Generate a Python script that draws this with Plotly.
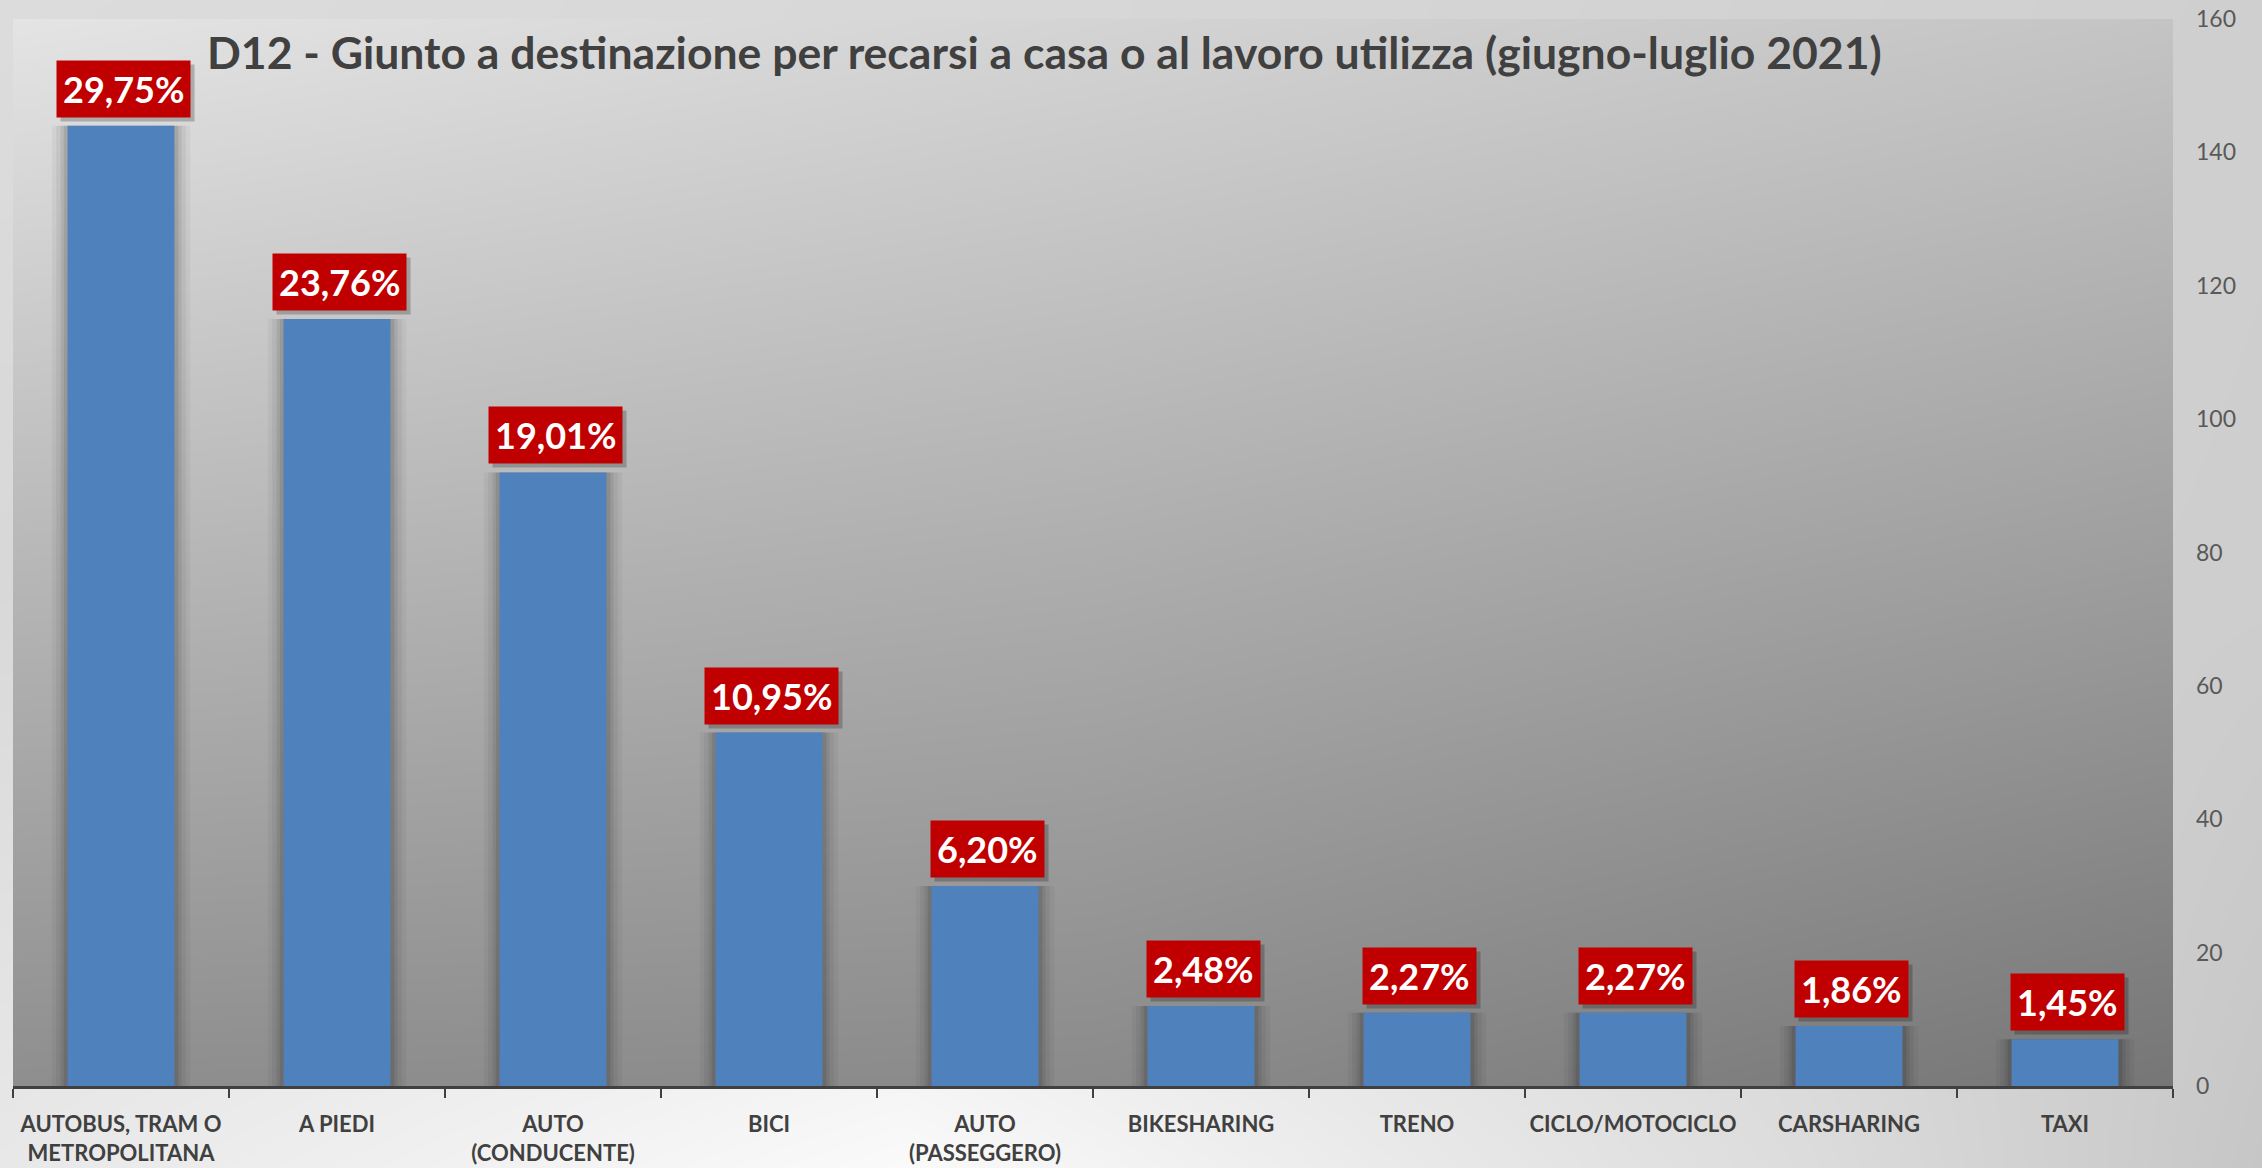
import plotly.graph_objects as go

# dati del grafico
categories = ["AUTOBUS, TRAM O<br>METROPOLITANA", "A PIEDI", "AUTO<br>(CONDUCENTE)", "BICI",
              "AUTO<br>(PASSEGGERO)", "BIKESHARING", "TRENO", "CICLO/MOTOCICLO",
              "CARSHARING", "TAXI"]
counts = [144, 115, 92, 53, 30, 12, 11, 11, 9, 7]
percent_labels = ["29,75%", "23,76%", "19,01%", "10,95%", "6,20%", "2,48%", "2,27%",
                  "2,27%", "1,86%", "1,45%"]
title = "D12 - Giunto a destinazione per recarsi a casa o al lavoro utilizza (giugno-luglio 2021)"

W, H = 2262, 1168
x0, x1 = 13 / W, 2173 / W
y0, y1 = (H - 1086) / H, (H - 19) / H

BLUE = "#4F81BD"
RED = "#C00000"
DARK = "#404040"
FONT = "Lato"

gray_scale = [[0, "black"], [1, "white"]]

fig = go.Figure()

# sfondo della pagina (sfumatura)
fig.add_trace(go.Heatmap(
    x=[0, 0.4, 0.8, 1], y=[0, 0.5, 1],
    z=[[232, 250, 220, 198],
       [216, 216, 208, 206],
       [220, 216, 210, 207]],
    colorscale=gray_scale, zmin=0, zmax=255, zsmooth="best",
    showscale=False, hoverinfo="skip", xaxis="x", yaxis="y"))

# sfondo dell'area del grafico (sfumatura)
fig.add_trace(go.Heatmap(
    x=[0, 0.5, 1], y=[0, 0.5, 1],
    z=[[142, 138, 118],
       [184, 174, 158],
       [228, 212, 196]],
    colorscale=gray_scale, zmin=0, zmax=255, zsmooth="best",
    showscale=False, hoverinfo="skip", xaxis="x2", yaxis="y2"))

# ombre delle barre
for w, a in [(0.64, 0.04), (0.6, 0.05), (0.56, 0.07), (0.53, 0.09)]:
    fig.add_trace(go.Bar(
        x=categories, y=counts, width=[w] * len(counts),
        marker=dict(color=f"rgba(0,0,0,{a})", line=dict(width=0)),
        hoverinfo="skip", xaxis="x3", yaxis="y3", showlegend=False))

fig.add_trace(go.Bar(
    x=categories, y=counts, width=[0.495] * len(counts),
    marker=dict(color=BLUE, line=dict(width=0)),
    xaxis="x3", yaxis="y3", showlegend=False))

annotations = []
for c, v, t in zip(categories, counts, percent_labels):
    annotations.append(dict(
        x=c, y=v, xref="x3", yref="y3", text=t, showarrow=False,
        yanchor="bottom", yshift=4, xshift=6,
        font=dict(family=FONT, size=36, color="rgba(0,0,0,0)", weight="bold"),
        bgcolor="rgba(0,0,0,0.22)", borderpad=6))
for c, v, t in zip(categories, counts, percent_labels):
    annotations.append(dict(
        x=c, y=v, xref="x3", yref="y3", text=t, showarrow=False,
        yanchor="bottom", yshift=8, xshift=2,
        font=dict(family=FONT, size=36, color="white", weight="bold"),
        bgcolor=RED, borderpad=6))

annotations.append(dict(
    x=1044 / W, y=1 - 52 / H, xref="paper", yref="paper", text=title,
    showarrow=False, xanchor="center", yanchor="middle",
    font=dict(family=FONT, size=44.5, color=DARK, weight="bold")))

hidden = dict(visible=False, range=[0, 1], fixedrange=True, showgrid=False,
              zeroline=False, automargin=False)

fig.update_layout(
    width=W, height=H,
    margin=dict(l=0, r=0, t=0, b=0, autoexpand=False),
    paper_bgcolor="#d8d8d8",
    plot_bgcolor="rgba(0,0,0,0)",
    barmode="overlay",
    showlegend=False,
    font=dict(family=FONT, color=DARK),
    xaxis=dict(hidden, domain=[0, 1]),
    yaxis=dict(hidden, domain=[0, 1]),
    xaxis2=dict(hidden, domain=[x0, x1], anchor="y2"),
    yaxis2=dict(hidden, domain=[y0, y1], anchor="x2"),
    xaxis3=dict(
        overlaying="x2", anchor="y3", type="category", automargin=False,
        showline=True, linecolor=DARK, linewidth=3, tickangle=0,
        ticks="outside", tickson="boundaries", ticklen=9, tickwidth=2, tickcolor=DARK,
        tickfont=dict(family=FONT, size=22, color=DARK, weight="bold"),
        ticklabelstandoff=17, showgrid=False, zeroline=False),
    yaxis3=dict(
        overlaying="y2", anchor="x3", side="right", range=[0, 160], dtick=20,
        automargin=False,
        showgrid=False, zeroline=False, showline=False, ticks="",
        tickfont=dict(family=FONT, size=23, color="#595959"),
        ticklabelstandoff=22),
    annotations=annotations,
)

# niente margine della pagina, la figura occupa tutta la finestra
fig.write_html("out.html", config={"displayModeBar": False},
               post_script="document.body.style.margin = '0';")
